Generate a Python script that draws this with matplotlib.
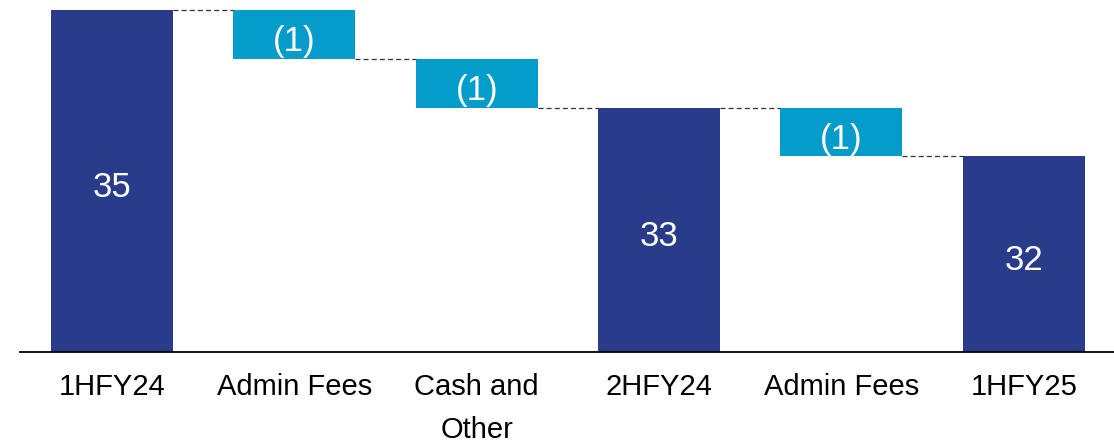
import numpy as np
import matplotlib.pyplot as plt

# --- Data ---
categories = ["1HFY24", "Admin Fees", "Cash and\nOther", "2HFY24", "Admin Fees", "1HFY25"]
values     = [35, -1, -1, 33, -1, 32]
is_total   = [True, False, False, True, False, True]
labels     = ["35", "(1)", "(1)", "33", "(1)", "32"]
Y_BASE     = 28     # axis starts here, not at zero

NAVY  = "#293C8A"
LIGHT = "#039CCB"

plt.rcParams['font.family'] = ['Liberation Sans', 'DejaVu Sans']

# waterfall bottoms / tops
bottoms, tops = [], []
level = 0
for v, tot in zip(values, is_total):
    if tot:
        bottoms.append(Y_BASE); tops.append(v); level = v
    else:
        new = level + v
        bottoms.append(min(level, new)); tops.append(max(level, new)); level = new

x = np.arange(len(categories))
W = 0.67

fig = plt.figure(figsize=(11.14, 4.43), dpi=100)
ax = fig.add_axes([20 / 1114, 91 / 443, 1094 / 1114, 352 / 443])

colors = [NAVY if t else LIGHT for t in is_total]
heights = [t - b for t, b in zip(tops, bottoms)]
ax.bar(x, heights, bottom=bottoms, width=W, color=colors, linewidth=0)

# connector lines
ends = []
level = 0
for v, tot in zip(values, is_total):
    level = v if tot else level + v
    ends.append(level)
for i in range(len(x) - 1):
    ax.plot([x[i] + W / 2, x[i + 1] - W / 2], [ends[i], ends[i]],
            color="#333333", lw=0.9, ls=(0, (4, 2.5)))

# value labels (baseline sits a bit below the bar middle)
for xi, b, t, lab, tot in zip(x, bottoms, tops, labels, is_total):
    ax.annotate(lab, (xi, (b + t) / 2), xytext=(0, -16 if tot else -17),
                textcoords='offset pixels', ha='center', va='baseline',
                color='white', fontsize=25)

ax.set_xlim(-0.505, 5.495)
ax.set_ylim(Y_BASE, 35.2)
ax.set_xticks(x)
ax.set_xticklabels(categories, fontsize=21, linespacing=1.7)
ax.tick_params(axis='x', length=0, pad=15)
ax.set_yticks([])
for s in ['top', 'left', 'right']:
    ax.spines[s].set_visible(False)
ax.spines['bottom'].set_color('black')
ax.spines['bottom'].set_linewidth(1.3)

plt.savefig("out.png", dpi=100)
